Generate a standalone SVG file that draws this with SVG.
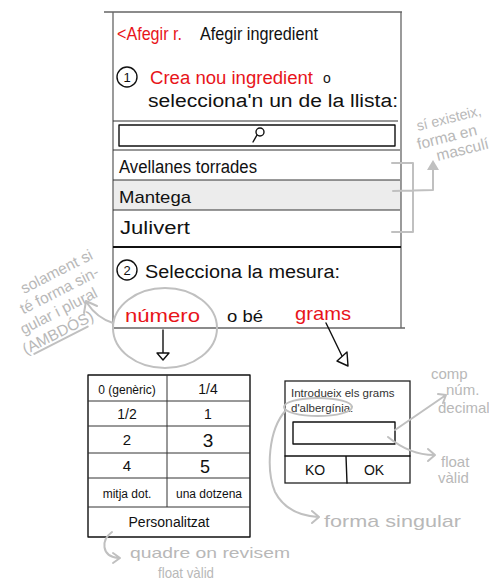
<svg xmlns="http://www.w3.org/2000/svg" width="489" height="588" viewBox="0 0 489 588">
<defs>
<style>
.hw{font-family:"Liberation Sans","DejaVu Sans",sans-serif;fill:#111}
.red{fill:#e8141a}
.gr{font-family:"Liberation Sans","DejaVu Sans",sans-serif;fill:#b8b8b8}
.frame{stroke:#666;stroke-width:1.3;fill:none}
.rule{stroke:#333;stroke-width:1;fill:none}
.ink{stroke:#111;stroke-width:1.4;fill:none;stroke-linecap:round;stroke-linejoin:round}
.note{stroke:#c0c0c0;stroke-width:2;fill:none;stroke-linecap:round;stroke-linejoin:round}
.ui{font-family:"Liberation Sans",Arial,sans-serif;fill:#333}
</style>
</defs>
<rect width="489" height="588" fill="#fff"/>

<g id="screen">
<rect x="113" y="180" width="288" height="30" fill="#ececec"/>
<path class="frame" d="M104,12 L402,12 M113,12 L113,330 M401,12 L401,328 M113,328 L405,328"/>
<path class="rule" d="M113,121 L398,121 M113,150 L400,150 M113,180 L400,180 M113,210 L400,210"/>
<path d="M113,247 L401,247" stroke="#111" stroke-width="2"/>
<text class="hw red" x="117" y="40" font-size="19" textLength="65" lengthAdjust="spacingAndGlyphs">&lt;Afegir r.</text>
<text class="hw" x="200" y="40" font-size="19" textLength="118" lengthAdjust="spacingAndGlyphs">Afegir ingredient</text>
</g>

<g id="step1">
<circle class="ink" cx="127" cy="77" r="10"/>
<text class="hw" x="127" y="82" font-size="13" text-anchor="middle">1</text>
<text class="hw red" x="150" y="84" font-size="18" textLength="163" lengthAdjust="spacingAndGlyphs">Crea nou ingredient</text>
<text class="hw" x="323" y="83" font-size="14">o</text>
<text class="hw" x="148" y="107" font-size="18" textLength="250" lengthAdjust="spacingAndGlyphs">selecciona'n un de la llista:</text>
</g>

<g id="search">
<rect class="ink" x="119" y="125" width="276" height="21"/>
<circle class="ink" cx="260" cy="132" r="4"/>
<path class="ink" d="M257,135 L253,142"/>
</g>

<g id="row-avellanes"><text class="hw" x="119" y="173" font-size="18" textLength="138" lengthAdjust="spacingAndGlyphs">Avellanes torrades</text></g>
<g id="row-mantega"><text class="hw" x="119" y="203" font-size="17" textLength="72" lengthAdjust="spacingAndGlyphs">Mantega</text></g>
<g id="row-julivert"><text class="hw" x="120" y="234" font-size="18" textLength="70" lengthAdjust="spacingAndGlyphs">Julivert</text></g>

<g id="step2">
<circle class="ink" cx="127" cy="270" r="10"/>
<text class="hw" x="127" y="275" font-size="13" text-anchor="middle">2</text>
<text class="hw" x="145" y="278" font-size="18" textLength="195" lengthAdjust="spacingAndGlyphs">Selecciona la mesura:</text>
<text class="hw red" x="125" y="322" font-size="19" textLength="75" lengthAdjust="spacingAndGlyphs">número</text>
<text class="hw" x="227" y="322" font-size="17" textLength="36" lengthAdjust="spacingAndGlyphs">o bé</text>
<text class="hw red" x="295" y="320" font-size="19" textLength="56" lengthAdjust="spacingAndGlyphs">grams</text>
</g>

<g id="table">
<rect class="ink" x="88" y="375" width="162" height="162"/>
<path class="rule" d="M88,401 L250,401 M88,426 L250,426 M88,453 L250,453 M88,478 L250,478 M88,507 L250,507 M167,375 L167,507" stroke-width="1.2"/>
<text class="hw" x="127" y="394" font-size="12" text-anchor="middle">0 (genèric)</text>
<text class="hw" x="208" y="394" font-size="14" text-anchor="middle">1/4</text>
<text class="hw" x="127" y="419" font-size="14" text-anchor="middle">1/2</text>
<text class="hw" x="208" y="419" font-size="14" text-anchor="middle">1</text>
<text class="hw" x="127" y="445" font-size="15" text-anchor="middle">2</text>
<text class="hw" x="208" y="447" font-size="19" text-anchor="middle">3</text>
<text class="hw" x="127" y="471" font-size="15" text-anchor="middle">4</text>
<text class="hw" x="205" y="473" font-size="18" text-anchor="middle">5</text>
<text class="hw" x="127" y="498" font-size="12" text-anchor="middle">mitja dot.</text>
<text class="hw" x="209" y="498" font-size="12" text-anchor="middle">una dotzena</text>
<text class="hw" x="169" y="527" font-size="14" text-anchor="middle">Personalitzat</text>
</g>

<g id="dialog">
<rect x="285" y="381" width="125" height="102" fill="#fff" stroke="#222" stroke-width="1.3"/>
<text class="ui" x="291" y="397" font-size="11.5">Introdueix els grams</text>
<text class="ui" x="291" y="412" font-size="11.5">d'albergínia:</text>
<rect class="ink" x="293" y="422" width="102" height="22"/>
<path class="ink" d="M285,456 L410,456 M346,456 L347,483"/>
<text class="hw" x="315" y="475" font-size="14" text-anchor="middle">KO</text>
<text class="hw" x="374" y="475" font-size="14" text-anchor="middle">OK</text>
</g>

<g id="connectors">
<path class="ink" d="M163,330 L163,353"/>
<polygon points="157,353 169,353 163,360" fill="#fff" stroke="#111" stroke-width="1.4" stroke-linejoin="round"/>
<path class="ink" d="M326,323 L342,356"/>
<polygon points="347,352 348,366 337,361" fill="#fff" stroke="#111" stroke-width="1.4" stroke-linejoin="round"/>
<ellipse class="note" cx="165" cy="328" rx="52" ry="40" stroke-width="1.5"/>
<path class="note" d="M113,323 Q97,318 87,303 M84,313 L86,301 L97,306"/>
<path class="note" d="M392,163 L413,163 L413,232 L392,232 M393,191 L433,190 L433,168"/>
<polygon points="427,170 439,170 433,160" fill="#c0c0c0"/>
<ellipse class="note" cx="318" cy="407" rx="34" ry="9" stroke-width="1.5"/>
<path class="note" d="M395,430 L446,395 M438,394 L446,395 L443,403"/>
<path class="note" d="M388,437 Q410,455 434,455 M428,449 L435,455 L428,461"/>
<path class="note" d="M286,410 C268,430 266,470 275,492 Q287,515 318,517 M312,511 L319,517 L312,523"/>
<path class="note" d="M112,532 C101,540 101,556 118,558 M113,553 L120,558 L113,563"/>
</g>

<g id="notes">
<g transform="rotate(-27 24 294)">
<text class="gr" x="24" y="294" font-size="15.5">solament si</text>
<text class="gr" x="14" y="312" font-size="15.5">té forma sin-</text>
<text class="gr" x="5" y="330" font-size="15.5">gular i plural</text>
<text class="gr" x="-2" y="349" font-size="15.5">(AMBDÓS)</text>
<path class="note" d="M6,352 L66,352" stroke-width="1.5"/>
</g>
<g transform="rotate(-14 418 131)">
<text class="gr" x="418" y="131" font-size="14.5" textLength="66" lengthAdjust="spacingAndGlyphs">sí existeix,</text>
<text class="gr" x="414" y="149" font-size="15.5">forma en</text>
<text class="gr" x="430" y="165" font-size="15.5">masculí</text>
</g>
<text class="gr" x="431" y="379" font-size="15">comp</text>
<text class="gr" x="446" y="395" font-size="15">núm.</text>
<text class="gr" x="438" y="413" font-size="15">decimal</text>
<text class="gr" x="441" y="467" font-size="15">float</text>
<text class="gr" x="438" y="483" font-size="15">vàlid</text>
<text class="gr" x="324" y="527" font-size="17" textLength="137" lengthAdjust="spacingAndGlyphs">forma singular</text>
<text class="gr" x="130" y="558" font-size="15" textLength="160" lengthAdjust="spacingAndGlyphs">quadre on revisem</text>
<text class="gr" x="158" y="578" font-size="15" textLength="56" lengthAdjust="spacingAndGlyphs">float vàlid</text>
</g>
</svg>
